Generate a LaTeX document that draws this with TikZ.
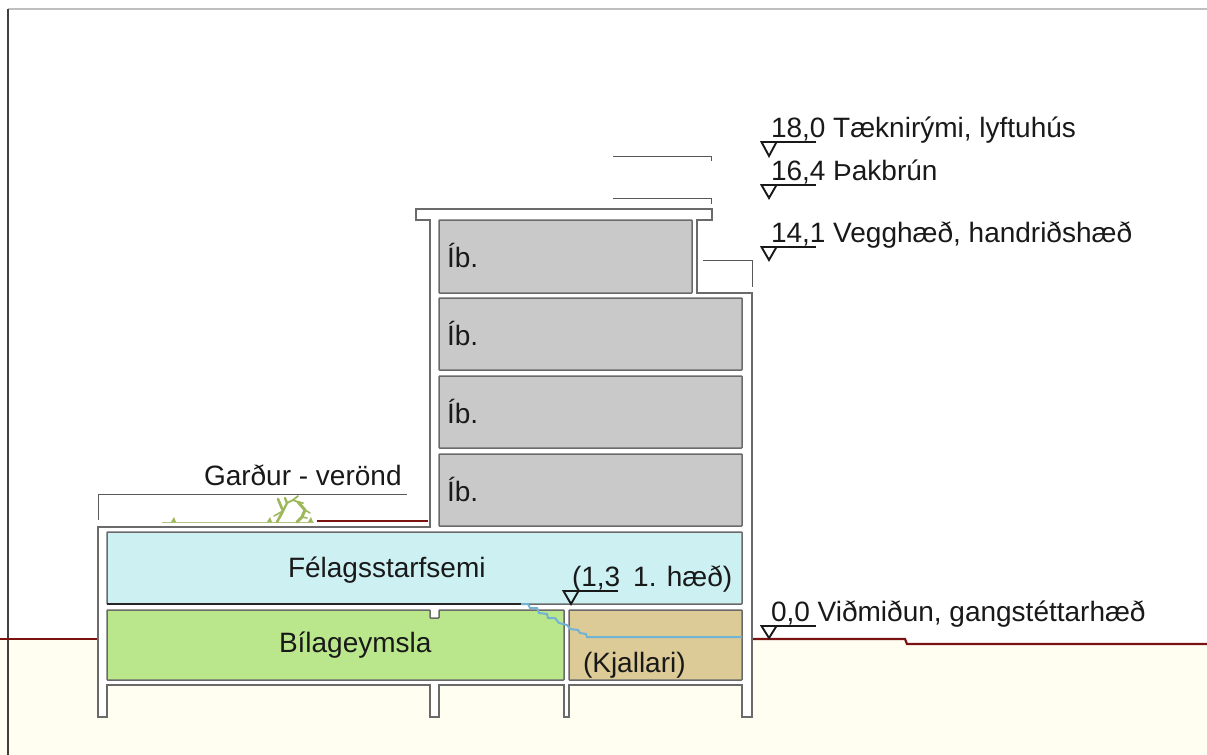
\documentclass[tikz,border=0pt]{standalone}
\usepackage{fontspec}
\setmainfont{Liberation Sans}
\definecolor{wallc}{HTML}{6A6A6A}
\definecolor{roomgray}{HTML}{C9C9C9}
\definecolor{roomblue}{HTML}{CDF0F3}
\definecolor{roomgreen}{HTML}{BAE78C}
\definecolor{roomtan}{HTML}{DCCB96}
\definecolor{groundc}{HTML}{FFFEF0}
\definecolor{redl}{HTML}{7A1212}
\definecolor{bluel}{HTML}{72B2D2}
\definecolor{plantc}{HTML}{9DB85A}
\definecolor{plantl}{HTML}{B5C084}
\tikzset{
  lab/.style={anchor=base west,inner sep=0pt,outer sep=0pt,text=black!90,font=\fontsize{14pt}{16pt}\selectfont},
  wallline/.style={draw=wallc,line width=0.6pt},
  thinline/.style={draw=black!65,line width=0.5pt},
  room/.style={draw=wallc,line width=0.75pt,rounded corners=0.3pt},
  lvl/.style={draw=black!90,line width=0.95pt},
  plant/.style={draw=plantc,line width=1pt,line cap=round,line join=round},
}
\newcommand{\levelmark}[3]{% line left x, line y, apex y
  \draw[lvl] (#1,#2) -- ++(55,0);
  \draw[lvl,line join=miter] (#1+0.5,#2) -- (#1+8,#3) -- (#1+15.5,#2) -- cycle;
}
\begin{document}
\begin{tikzpicture}[x=0.5pt,y=-0.5pt]
\useasboundingbox (0,0) rectangle (1207,755);
\fill[white] (0,0) rectangle (1207,755);
% ground
\fill[groundc] (0,640) -- (98,640) -- (752,640) -- (905,640) -- (908,644) -- (1207,644) -- (1207,755) -- (0,755) -- cycle;
% page frame
\draw[black!25,line width=1pt] (8,9) -- (1207,9);
\draw[black!75,line width=1pt] (8,9) -- (8,755);
% ground line
\draw[redl,line width=1.1pt] (0,639) -- (98,639);
\draw[redl,line width=1.1pt] (752,639) -- (905,639) -- (907,644) -- (1207,644);
% building
\draw[wallline,fill=white] (98,527) -- (430,527) -- (430,220) -- (416,220) -- (416,209) -- (712,209) -- (712,220) -- (697,220) -- (697,293) -- (752,293) -- (752,717) -- (742,717) -- (742,685) -- (569,685) -- (569,717) -- (564,717) -- (564,685) -- (439,685) -- (439,717) -- (430,717) -- (430,685) -- (107,685) -- (107,717) -- (98,717) -- cycle;
% rooms
\path[room,fill=roomgray] (439,220) rectangle (692,293);
\path[room,fill=roomgray] (439,298) rectangle (742,370);
\path[room,fill=roomgray] (439,376) rectangle (742,448);
\path[room,fill=roomgray] (439,454) rectangle (742,526);
\path[room,fill=roomblue] (107,532) rectangle (742,604);
\path[room,fill=roomgreen] (107,610) -- (430,610) -- (430,618) -- (439,618) -- (439,610) -- (564,610) -- (564,680) -- (107,680) -- cycle;
\path[room,fill=roomtan] (569,610) rectangle (742,680);
\draw[black!85,line width=0.6pt] (107,604) -- (521,604);
% parapets and thin lines
\draw[thinline] (98,520) -- (98,494) -- (407,494);
\draw[thinline] (613,156) -- (711,156) -- (711,161);
\draw[thinline] (613,198) -- (711,198) -- (711,204);
\draw[thinline] (703,260) -- (752,260) -- (752,287);
% terrace
\draw[redl,line width=1.2pt] (317,521) -- (428,521);
\draw[plantl,line width=0.5pt] (162,522) -- (314,522);
\foreach \tx in {174,270,311}{
  \fill[plantc] (\tx-3,522) -- (\tx,517) -- (\tx+2,522) -- cycle;
}
% bush
\draw[plant,line width=1.3pt] (277,522) -- (283,511) -- (278,499);
\draw[plant,line width=1.2pt] (283,511) -- (287,503) -- (285,498);
\draw[plant,line width=0.9pt] (287,503) -- (293,500) -- (298,496);
\draw[plant,line width=1.5pt] (298,502) -- (305,510) -- (302,517) -- (297,522);
\draw[plant,line width=0.9pt] (293,500) -- (298,502) -- (303,503);
\draw[plant,line width=0.8pt] (305,510) -- (310,513);
\draw[plant,line width=0.8pt] (302,517) -- (307,518);
\draw[plant,line width=0.8pt] (283,511) -- (274,516);
% stepped blue line
\draw[bluel,line width=1pt] (521,604) -- (528,604) -- (530,608) -- (537,608) -- (539,613) -- (547,614) -- (548,618) -- (555,618) -- (559,623) -- (567,625) -- (570,629) -- (578,630) -- (580,633) -- (586,634) -- (587,637) -- (742,637);
% level marks
\levelmark{761}{142}{156}
\levelmark{761}{185}{198}
\levelmark{761}{247}{260}
\levelmark{761}{626}{638}
\levelmark{563}{591}{604}
% texts
\node[lab] (t18) at (771,137) {18,0 Tæknirými, lyftuhús};
\node[lab] (t16) at (771,180) {16,4 Þakbrún};
\node[lab] (t14) at (771,242) {14,1 Vegghæð, handriðshæð};
\node[lab] (t00) at (771,621) {0,0 Viðmiðun, gangstéttarhæð};
\node[lab] (t13) at (572,586) {(1,3\ \hspace{2.6pt}1. hæð)};
\node[lab] (tgar) at (204,485) {Garður - verönd};
\node[lab] (tfel) at (288,577) {Félagsstarfsemi};
\node[lab] (tbil) at (279,652) {Bílageymsla};
\node[lab] (tkja) at (583,672) {(Kjallari)};
\node[lab] (tib1) at (447,267) {Íb.};
\node[lab] (tib2) at (447,345) {Íb.};
\node[lab] (tib3) at (447,423) {Íb.};
\node[lab] (tib4) at (447,501) {Íb.};
\end{tikzpicture}
\end{document}
